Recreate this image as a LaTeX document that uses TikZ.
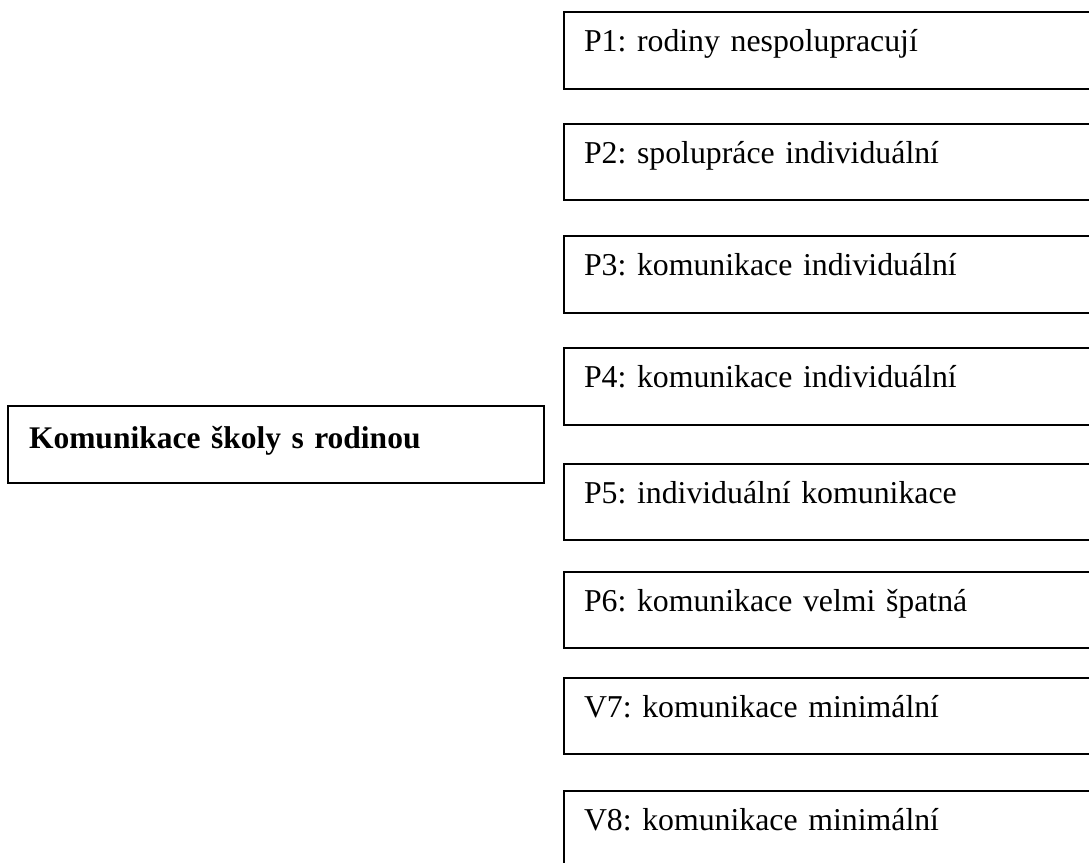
\documentclass[tikz,border=0pt]{standalone}
\usepackage{fontspec}
\setmainfont{Liberation Serif}
\frenchspacing
\begin{document}
\begin{tikzpicture}[x=1pt,y=-1pt,
  box/.style={draw=black,line width=2pt,anchor=north west,inner ysep=0pt,
    font=\fontsize{31.8}{38}\selectfont,align=left},
  rbox/.style={box,inner xsep=20pt,text width=520pt,text height=39.5pt,text depth=37pt},
  lbox/.style={box,inner xsep=21.5pt,text width=493pt,text height=42.8pt,text depth=34.2pt,
    font=\fontsize{31.5}{38}\selectfont\bfseries}]
\useasboundingbox (0,0) rectangle (1089,862);
\clip (0,0) rectangle (1089,862);
\node[lbox] (main) at (6.5,404.5) {Komunikace školy s rodinou};
\node[rbox] (p1) at (563,11) {P1: rodiny nespolupracují};
\node[rbox] (p2) at (563,122.7) {P2: spolupráce individuální};
\node[rbox] (p3) at (563,235) {P3: komunikace individuální};
\node[rbox] (p4) at (563,347.3) {P4: komunikace individuální};
\node[rbox] (p5) at (563,462.7) {P5: individuální komunikace};
\node[rbox] (p6) at (563,570.7) {P6: komunikace velmi špatná};
\node[rbox] (v7) at (563,676.7) {V7: komunikace minimální};
\node[rbox] (v8) at (563,789.7) {V8: komunikace minimální};
\end{tikzpicture}
\end{document}
